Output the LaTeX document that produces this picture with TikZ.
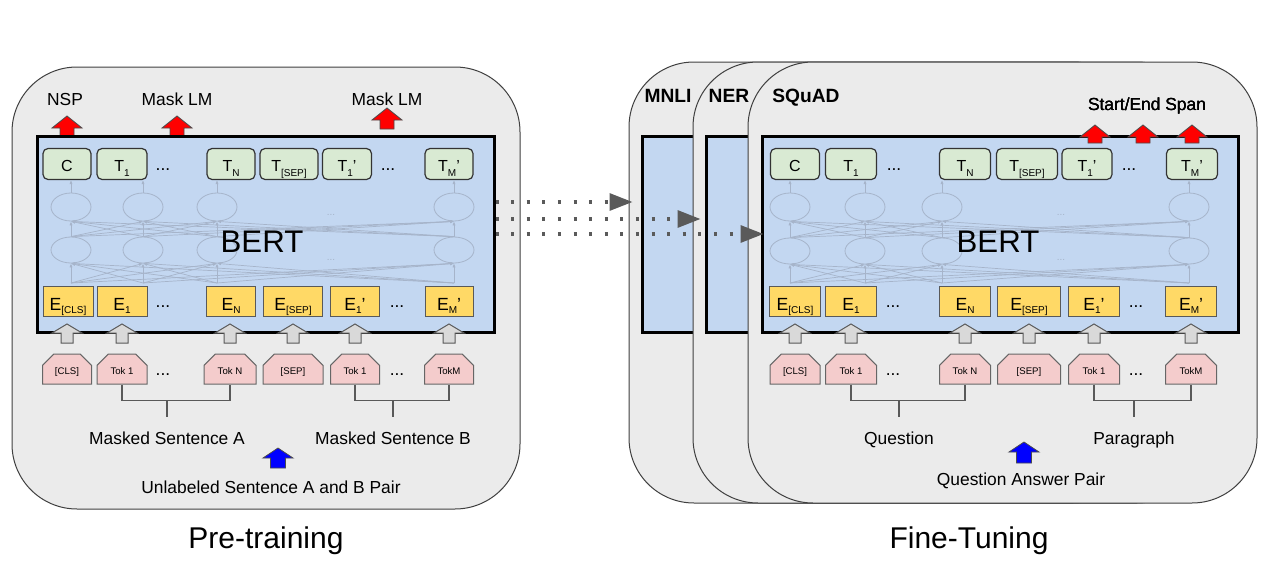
\documentclass[tikz,border=0pt]{standalone}
\usepackage{fontspec}
\setmainfont{Liberation Sans}
\usepackage{tikz}
\usetikzlibrary{arrows.meta, positioning, calc, shapes.misc, shapes.geometric}
\usepackage{xcolor}
\definecolor{panelgray}{RGB}{235,235,235}
\definecolor{bertblue}{RGB}{195,215,241}
\definecolor{outgreen}{RGB}{217,234,211}
\definecolor{embyellow}{RGB}{255,217,102}
\definecolor{tokpink}{RGB}{244,204,204}
\definecolor{netgray}{RGB}{166,180,202}
\definecolor{dotgray}{RGB}{90,90,90}

\newcommand{\lowidx}[2][1.5pt]{\raisebox{-#1}{\fontsize{5}{5}\selectfont #2}}
% block arrow pointing up: style, x, tip y, base y, half shaft, head length
\newcommand{\blockup}[6]{%
  \draw[#1] (#2,#3) -- (#2+15,#3+#6) -- (#2+#5,#3+#6) -- (#2+#5,#4)
    -- (#2-#5,#4) -- (#2-#5,#3+#6) -- (#2-15,#3+#6) -- cycle;}

\tikzset{
  panel/.style={draw=black!75, fill=panelgray, line width=0.5pt, rounded corners=32.5pt},
  bertbox/.style={draw=black, fill=bertblue, line width=1.5pt, minimum height=98pt, inner sep=0pt},
  outnode/.style={draw=black!80, fill=outgreen, rounded corners=2.5pt, line width=0.6pt,
    minimum height=15.5pt, inner sep=0pt, text height=7.5pt, text depth=0.5pt,
    font=\fontsize{8}{8}\selectfont},
  embnode/.style={draw=black!65, fill=embyellow, line width=0.5pt,
    minimum height=15pt, inner sep=0pt, text height=9.5pt, text depth=0.5pt,
    font=\fontsize{8.8}{9}\selectfont},
  toknode/.style={chamfered rectangle, chamfered rectangle corners={north west,north east},
    chamfered rectangle xsep=2.2pt, draw=black!60, fill=tokpink, line width=0.5pt,
    minimum height=15pt, inner sep=0pt, text height=5.5pt, text depth=0.5pt,
    font=\fontsize{4.8}{5}\selectfont},
  neuron/.style={ellipse, draw=netgray, line width=0.4pt, minimum width=20pt, inner sep=0pt},
  netline/.style={draw=netgray, line width=0.35pt, -{Latex[length=2pt,width=1.6pt]}},
  netdots/.style={text=netgray, font=\fontsize{5}{5}\selectfont, inner sep=0pt},
  dotsnode/.style={font=\fontsize{8.7}{10}\selectfont, inner sep=0pt},
  lab/.style={font=\fontsize{8.7}{10}\selectfont, inner sep=0pt, anchor=base},
  task/.style={font=\bfseries\fontsize{9.6}{11}\selectfont, inner sep=0pt, anchor=base},
  bertlab/.style={font=\fontsize{15.6}{18}\selectfont, inner sep=0pt, anchor=base},
  capt/.style={font=\fontsize{15}{18}\selectfont, inner sep=0pt, anchor=base},
  bracket/.style={draw=black!65, line width=0.6pt},
  redarr/.style={fill=red, draw=black!70, line width=0.4pt},
  grayarr/.style={fill=black!15, draw=black!65, line width=0.5pt},
  bluearr/.style={fill=blue, draw=black!70, line width=0.4pt},
  dotarrow/.style={draw=dotgray, line width=1.6pt, dash pattern=on 1.5pt off 6.3pt,
    -{Triangle[length=11.5pt, width=8.5pt]}}
}

\begin{document}
\begin{tikzpicture}[x=0.5pt, y=-0.5pt]
  \useasboundingbox (0,0) rectangle (1286,573);

  % Pre-training
  \draw[panel] (12,67) rectangle (520,509);
  \blockup{redarr}{67}{116}{137}{7}{12}
  \blockup{redarr}{177}{116}{137}{7}{12}
  \node[bertbox, minimum width=228.5pt] (pbox) at (265.5,234) {};
  \blockup{redarr}{387}{108}{129}{7}{12}
  \node[lab] (pnsp) at (65,105) {NSP};
  \node[lab] (pmlm) at (177,105) {Mask LM};
  \node[lab] (pmlm2) at (387,105) {Mask LM};

  \foreach \nm/\x/\w/\txt in {pC/67/48/C, pT1/122/50/{T\lowidx[2.5pt]{1}}, pTN/231/48/{T\lowidx[2.5pt]{N}},
      pTS/289/58/{T\lowidx[2.5pt]{[SEP]}}, pTa/347/49/{T\lowidx[2.5pt]{1}'}, pTM/449/48/{T\lowidx[2.5pt]{M}'}}
    \node[outnode, minimum width=\w*0.5pt] (\nm) at (\x,164) {\txt};

  \foreach \i/\x/\nm in {1/71/pC, 2/143/pT1, 3/217/pTN, 4/454/pTM} {
    \node[neuron, minimum height=14pt] (pu\i) at (\x,207) {};
    \node[neuron, minimum height=13pt] (pl\i) at (\x,250) {};
    \coordinate (pb\i) at (\x,283);
    \draw[netline] (pu\i.north) -- (pu\i.north |- \nm.south);
  }
  \foreach \i in {1,...,4} \foreach \j in {1,...,4} {
    \draw[netline] (pl\i.north) -- (pu\j.south);
    \draw[netline] (pb\i) -- (pl\j.south);
  }
  \node[netdots] (pnd1) at (331,215) {...};
  \node[netdots] (pnd2) at (331,260) {...};
  \node[bertlab] (pbert) at (262,252) {BERT};

  \foreach \nm/\x/\w/\txt in {pE0/68/50/{E\lowidx{[CLS]}}, pE1/122/50/{E\lowidx{1}}, pEN/231/49/{E\lowidx{N}},
      pES/293/59/{E\lowidx{[SEP]}}, pEa/355/49/{E\lowidx{1}'}, pEM/449/48/{E\lowidx{M}'}}
    \node[embnode, minimum width=\w*0.5pt] (\nm) at (\x,301) {\txt};

  \foreach \nm/\x/\w/\txt in {pK0/67/49/{[CLS]}, pK1/122/50/Tok 1, pKN/230/52/Tok N,
      pKS/293/60/{[SEP]}, pKa/355/49/Tok 1, pKM/449/49/TokM} {
    \node[toknode, minimum width=\w*0.5pt] (\nm) at (\x,369) {\txt};
    \blockup{grayarr}{\x}{324}{343}{6}{9}
  }
  \foreach \nm/\x/\y in {pd1/163/170, pd2/388/170, pd3/163/307, pd4/397/307, pd5/163/375, pd6/397/375}
    \node[dotsnode] (\nm) at (\x,\y) {...};

  \node[lab] (pA) at (167,444) {Masked Sentence A};
  \node[lab] (pB) at (393,444) {Masked Sentence B};
  \draw[bracket] (pK1.south) -- ++(0,16) -| (pKN.south);
  \draw[bracket] (pA.north |- 0,400) -- ++(0,17);
  \draw[bracket] (pKa.south) -- ++(0,16) -| (pKM.south);
  \draw[bracket] (pB.north |- 0,400) -- ++(0,17);
  \blockup{bluearr}{278}{448}{468}{7.5}{10}
  \node[lab] (pU) at (271,493) {Unlabeled Sentence A and B Pair};
  \node[capt] (ptitle) at (266,548) {Pre-training};

  % Fine-tuning
  \draw[panel] (629,62) rectangle (1138,503);
  \node[bertbox, minimum width=238pt] (mbox) at (880,234.5) {};
  \node[task] (mnli) at (668,102) {MNLI};
  \draw[panel] (693,62) rectangle (1202,503);
  \node[bertbox, minimum width=238pt] (nbox) at (944,234.5) {};
  \node[task] (ner) at (729,102) {NER};
  \draw[panel] (748,62) rectangle (1257,503);
  \node[bertbox, minimum width=238pt] (sbox) at (1000,234.5) {};
  \node[task] (squad) at (806,102) {SQuAD};

  \foreach \nm/\x/\w/\txt in {sC/795/49/C, sT1/851/51/{T\lowidx[2.5pt]{1}}, sTN/965/51/{T\lowidx[2.5pt]{N}},
      sTS/1027/61/{T\lowidx[2.5pt]{[SEP]}}, sTa/1087/50/{T\lowidx[2.5pt]{1}'}, sTM/1192/51/{T\lowidx[2.5pt]{M}'}}
    \node[outnode, minimum width=\w*0.5pt] (\nm) at (\x,164) {\txt};

  \foreach \i/\x/\nm in {1/790/sC, 2/865/sT1, 3/942/sTN, 4/1189/sTM} {
    \node[neuron, minimum height=14pt] (su\i) at (\x,207) {};
    \node[neuron, minimum height=13pt] (sl\i) at (\x,251) {};
    \coordinate (sb\i) at (\x,283);
    \draw[netline] (su\i.north) -- (su\i.north |- \nm.south);
  }
  \foreach \i in {1,...,4} \foreach \j in {1,...,4} {
    \draw[netline] (sl\i.north) -- (su\j.south);
    \draw[netline] (sb\i) -- (sl\j.south);
  }
  \node[netdots] (snd1) at (1061,215) {...};
  \node[netdots] (snd2) at (1061,260) {...};
  \node[bertlab] (sbert) at (998,252) {BERT};

  \foreach \x in {1095,1143,1192}
    \blockup{redarr}{\x}{125}{143}{7}{12}
  \node[lab] (span) at (1147,110) {Start/End Span};

  \foreach \nm/\x/\w/\txt in {sE0/795/51/{E\lowidx{[CLS]}}, sE1/851/51/{E\lowidx{1}}, sEN/965/51/{E\lowidx{N}},
      sES/1029/63/{E\lowidx{[SEP]}}, sEa/1094/51/{E\lowidx{1}'}, sEM/1191/51/{E\lowidx{M}'}}
    \node[embnode, minimum width=\w*0.5pt] (\nm) at (\x,301) {\txt};

  \foreach \nm/\x/\w/\txt in {sK0/795/50/{[CLS]}, sK1/851/51/Tok 1, sKN/965/51/Tok N,
      sKS/1029/63/{[SEP]}, sKa/1094/51/Tok 1, sKM/1191/51/TokM} {
    \node[toknode, minimum width=\w*0.5pt] (\nm) at (\x,369) {\txt};
    \blockup{grayarr}{\x}{324}{343}{6}{9}
  }
  \foreach \nm/\x/\y in {sd1/894/170, sd2/1129/170, sd3/893/307, sd4/1136/307, sd5/893/375, sd6/1136/375}
    \node[dotsnode] (\nm) at (\x,\y) {...};

  \node[lab] (sQ) at (899,444) {Question};
  \node[lab] (sP) at (1134,444) {Paragraph};
  \draw[bracket] (sK1.south) -- ++(0,16) -| (sKN.south);
  \draw[bracket] (sQ.north |- 0,400) -- ++(0,17);
  \draw[bracket] (sKa.south) -- ++(0,16) -| (sKM.south);
  \draw[bracket] (sP.north |- 0,400) -- ++(0,17);
  \blockup{bluearr}{1024}{442}{463}{7.5}{10}
  \node[lab] (sQA) at (1021,485) {Question Answer Pair};
  \node[capt] (stitle) at (969,548) {Fine-Tuning};

  % transfer arrows
  \coordinate (d1) at ([yshift=16pt]pbox.east);
  \coordinate (d2) at ([yshift=7.5pt]pbox.east);
  \coordinate (d3) at (pbox.east);
  \draw[dotarrow, shorten >=4pt] (d1) -- (d1 -| mbox.west);
  \draw[dotarrow, shorten >=2pt] (d2) -- (d2 -| nbox.west);
  \draw[dotarrow, shorten >=-1.5pt] (d3) -- (d3 -| sbox.west);
\end{tikzpicture}
\end{document}
